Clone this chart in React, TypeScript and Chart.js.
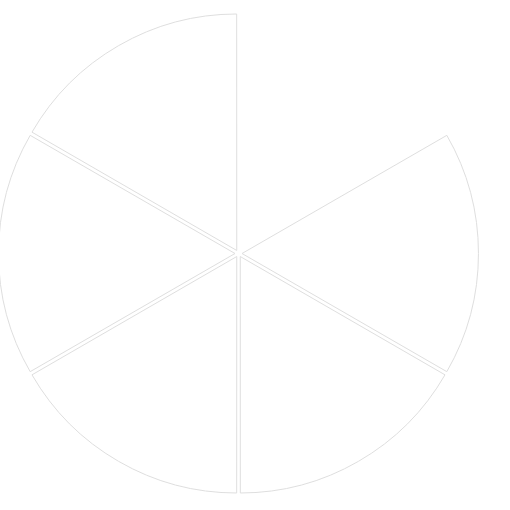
import React, { useEffect, useRef } from "react";
import { Chart, registerables } from "chart.js";

Chart.register(...registerables);

const categories = ["A", "B", "C", "D", "E", "F"];
const values = [1, 1, 1, 1, 1, 1];
const fills = ["#ffffff", "#ffffff", "#ffffff", "#ffffff", "#ffffff", "#ffffff"];
const borders = ["#ffffff", "#dedede", "#dedede", "#dedede", "#dedede", "#dedede"];

export default function App() {
  const ref = useRef<HTMLCanvasElement | null>(null);
  useEffect(() => {
    if (!ref.current) return;
    const chart = new Chart(ref.current, {
      type: "pie",
      data: {
        labels: categories,
        datasets: [
          {
            data: values,
            backgroundColor: fills,
            borderColor: borders,
            borderWidth: 1,
            offset: 14,
          },
        ],
      },
      options: {
        animation: false,
        responsive: false,
        layout: { padding: { left: 0, right: 23, top: 10, bottom: 13 } },
        plugins: { legend: { display: false }, tooltip: { enabled: false } },
      },
    });
    return () => chart.destroy();
  }, []);
  return (
    <div style={{ position: "absolute", left: 0, top: 0, width: 510, height: 510, background: "#fff", overflow: "hidden" }}>
      <canvas
        ref={ref}
        width={510}
        height={510}
        style={{ position: "absolute", left: -5, top: 0, width: 510, height: 510 }}
      />
    </div>
  );
}
